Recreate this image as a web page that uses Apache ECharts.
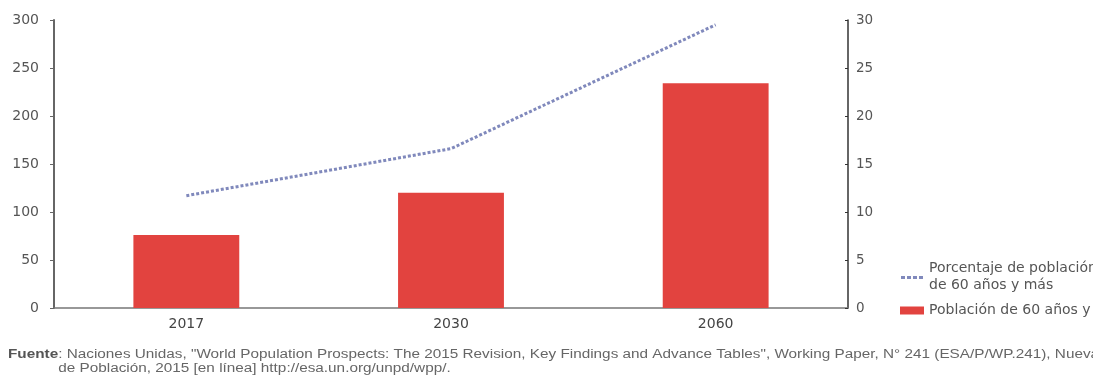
<!DOCTYPE html>
<html>
<head>
<meta charset="utf-8">
<script src="https://cdn.jsdelivr.net/npm/echarts@6/dist/echarts.min.js"></script>
<style>
  html, body { margin: 0; padding: 0; background: #fff; }
  #chart { width: 1093px; height: 379px; }
</style>
</head>
<body>
<div id="chart"></div>
<script>
// Population aged 60+ (millions) and its share of total population (%)
const years = ['2017', '2030', '2060'];
const poblacion60 = [76, 120, 234];
const porcentaje60 = [11.7, 16.6, 29.5];
const leftTicks = [0, 50, 100, 150, 200, 250, 300];
const rightTicks = [0, 5, 10, 15, 20, 25, 30];

const nameLine = 'Porcentaje de población\nde 60 años y más';
const nameBar = 'Población de 60 años y más (millones)';

const FONT = 'DejaVu Sans, Verdana, sans-serif';
// dashed legend key inside an 24x8 box (tiny corner specks keep the box size)
const DASH_ICON = 'path://M0 0h0.01v0.01H0z M24 8h0.01v0.01H24z M1 3h4v3H1z M7 3h4v3H7z M13 3h4v3h-4z M19 3h4v3h-4z';

const chart = echarts.init(document.getElementById('chart'));
chart.setOption({
  animation: false,
  textStyle: { fontFamily: FONT },
  grid: { left: 54, right: 245, top: 20, bottom: 71 },
  legend: {
    orient: 'vertical',
    left: 895,
    top: 255,
    itemGap: 8,
    itemWidth: 24,
    itemHeight: 8,
    textStyle: { color: '#555', fontSize: 14, lineHeight: 17, fontFamily: FONT },
    data: [
      { name: nameLine, icon: DASH_ICON, itemStyle: { color: '#8089bc' } },
      { name: nameBar, icon: 'rect' }
    ]
  },
  xAxis: {
    type: 'category',
    data: years,
    axisLine: { lineStyle: { color: '#777', width: 1.5 } },
    axisTick: { show: false },
    axisLabel: { color: '#444', fontSize: 14, margin: 9 }
  },
  yAxis: [
    {
      type: 'value', min: leftTicks[0], max: leftTicks[leftTicks.length - 1], interval: 50,
      position: 'left',
      axisLine: { show: true, lineStyle: { color: '#666', width: 2 } },
      axisTick: { show: true, length: 4, lineStyle: { color: '#666' } },
      axisLabel: { color: '#555', fontSize: 14, margin: 15 },
      splitLine: { show: false }
    },
    {
      type: 'value', min: rightTicks[0], max: rightTicks[rightTicks.length - 1], interval: 5,
      position: 'right',
      axisLine: { show: true, lineStyle: { color: '#333', width: 1.5 } },
      axisTick: { show: true, inside: true, length: 3, lineStyle: { color: '#333' } },
      axisLabel: { color: '#555', fontSize: 13.5, margin: 8 },
      splitLine: { show: false }
    }
  ],
  series: [
    {
      name: nameBar,
      type: 'bar',
      yAxisIndex: 0,
      data: poblacion60,
      barWidth: '40%',
      itemStyle: { color: '#e2433f' },
      z: 1
    },
    {
      name: nameLine,
      type: 'line',
      yAxisIndex: 1,
      data: porcentaje60,
      symbol: 'none',
      lineStyle: { color: '#8089bc', width: 3, type: [3, 2] },
      itemStyle: { color: '#8089bc' },
      z: 3
    }
  ],
  graphic: [
    {
      type: 'text', x: 8, y: 348, scaleX: 1.225,
      style: {
        text: '{b|Fuente}: Naciones Unidas, "World Population Prospects: The 2015 Revision, Key Findings and Advance Tables", Working Paper, N° 241 (ESA/P/WP.241), Nueva York, División\n{i|}de Población, 2015 [en línea] http://esa.un.org/unpd/wpp/.',
        fill: '#666',
        font: '12.5px "Liberation Sans", Arial, sans-serif',
        lineHeight: 14,
        rich: {
          b: { fontWeight: 'bold', fill: '#555', fontSize: 12.5, fontFamily: 'Liberation Sans' },
          i: { width: 41 }
        }
      }
    }
  ]
});
</script>
</body>
</html>
